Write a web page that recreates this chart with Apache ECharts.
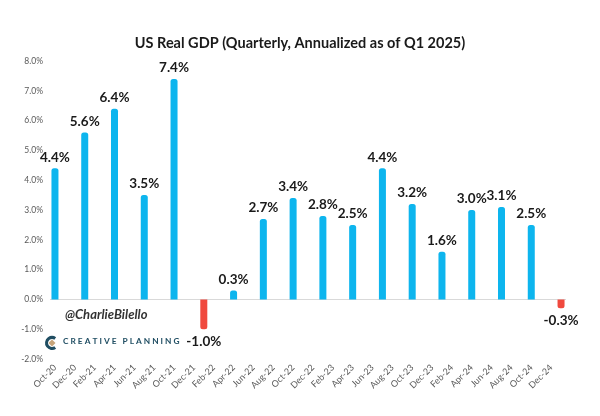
<!DOCTYPE html>
<html>
<head>
<meta charset="utf-8">
<script src="https://cdn.jsdelivr.net/npm/echarts@6/dist/echarts.min.js"></script>
<style>
html,body{margin:0;padding:0;background:#fff;}
#chart{width:600px;height:416px;}
</style>
</head>
<body>
<div id="chart"></div>
<script>
// Month categories on the x axis (one per month)
var monthCategories = [
  'Oct-20','Nov-20','Dec-20','Jan-21','Feb-21','Mar-21','Apr-21','May-21','Jun-21','Jul-21','Aug-21','Sep-21',
  'Oct-21','Nov-21','Dec-21','Jan-22','Feb-22','Mar-22','Apr-22','May-22','Jun-22','Jul-22','Aug-22','Sep-22',
  'Oct-22','Nov-22','Dec-22','Jan-23','Feb-23','Mar-23','Apr-23','May-23','Jun-23','Jul-23','Aug-23','Sep-23',
  'Oct-23','Nov-23','Dec-23','Jan-24','Feb-24','Mar-24','Apr-24','May-24','Jun-24','Jul-24','Aug-24','Sep-24',
  'Oct-24','Nov-24','Dec-24','Jan-25'
];
// Quarterly observations
var quarterMonths = [
  'Oct-20','Jan-21','Apr-21','Jul-21','Oct-21','Jan-22','Apr-22','Jul-22','Oct-22',
  'Jan-23','Apr-23','Jul-23','Oct-23','Jan-24','Apr-24','Jul-24','Oct-24','Jan-25'
];
var gdpValues = [4.4, 5.6, 6.4, 3.5, 7.4, -1.0, 0.3, 2.7, 3.4, 2.8, 2.5, 4.4, 3.2, 1.6, 3.0, 3.1, 2.5, -0.3];
var yTicks = [-2, -1, 0, 1, 2, 3, 4, 5, 6, 7, 8];

var BLUE = '#0db5ee';
var RED = '#f0493e';

var seriesData = monthCategories.map(function (m) {
  var i = quarterMonths.indexOf(m);
  if (i < 0) return null;
  var v = gdpValues[i];
  var neg = v < 0;
  return {
    value: v,
    itemStyle: { color: neg ? RED : BLUE, borderRadius: neg ? [0, 0, 2.5, 2.5] : [2.5, 2.5, 0, 0] },
    label: { position: neg ? 'bottom' : 'top', distance: neg ? 5 : 4 }
  };
});

var chart = echarts.init(document.getElementById('chart'), null, { renderer: 'canvas' });
chart.setOption({
  animation: false,
  backgroundColor: '#ffffff',
  title: {
    text: 'US Real GDP (Quarterly, Annualized as of Q1 2025)',
    left: 'center',
    top: 31,
    textStyle: { fontFamily: 'Lato', fontWeight: 'bold', fontSize: 14.5, color: '#1a1a1a' }
  },
  grid: { left: 50, right: 34, top: 61, bottom: 57 },
  xAxis: {
    type: 'category',
    data: monthCategories,
    boundaryGap: true,
    axisLine: { show: false },
    axisTick: { show: false },
    axisLabel: {
      interval: 1,
      rotate: 45,
      margin: 7,
      fontFamily: 'Lato',
      fontSize: 9,
      color: '#595959'
    }
  },
  yAxis: {
    type: 'value',
    min: yTicks[0],
    max: yTicks[yTicks.length - 1],
    interval: 1,
    splitLine: { show: false },
    axisLine: { show: false },
    axisTick: { show: false },
    axisLabel: {
      margin: 7,
      fontFamily: 'Lato',
      fontSize: 8.5,
      color: '#595959',
      formatter: function (v) { return v.toFixed(1) + '%'; }
    }
  },
  series: [{
    type: 'bar',
    data: seriesData,
    barWidth: 7,
    label: {
      show: true,
      fontFamily: 'Lato',
      fontWeight: 'bold',
      fontSize: 13.5,
      color: '#1a1a1a',
      formatter: function (p) { return p.value.toFixed(1) + '%'; }
    },
    markLine: {
      silent: true,
      symbol: 'none',
      label: { show: false },
      lineStyle: { color: '#d9d9d9', width: 1, type: 'solid' },
      data: [{ yAxis: 0 }],
      z: 1
    },
    z: 2
  }],
  graphic: [
    {
      type: 'text', left: 65, top: 308,
      style: { text: '@CharlieBilello', fontFamily: 'Lato', fontStyle: 'italic', fontWeight: 'bold', fontSize: 13, fill: '#333333' }
    },
    {
      type: 'group', left: 44, top: 335,
      children: [
        { type: 'arc', shape: { cx: 7, cy: 7, r: 5.5, startAngle: Math.PI * 0.3, endAngle: Math.PI * 1.7, clockwise: true }, style: { stroke: '#1f4d62', lineWidth: 3, fill: null } },
        { type: 'polygon', shape: { points: [[7, 3.5], [10.5, 7], [7, 10.5], [3.5, 7]] }, style: { fill: '#c7a47a' } }
      ]
    },
    {
      type: 'text', left: 63, top: 337,
      style: { text: 'C R E A T I V E   P L A N N I N G', fontFamily: 'Lato', fontWeight: 'bold', fontSize: 8.3, fill: '#1f4d62' }
    }
  ]
});
</script>
</body>
</html>
